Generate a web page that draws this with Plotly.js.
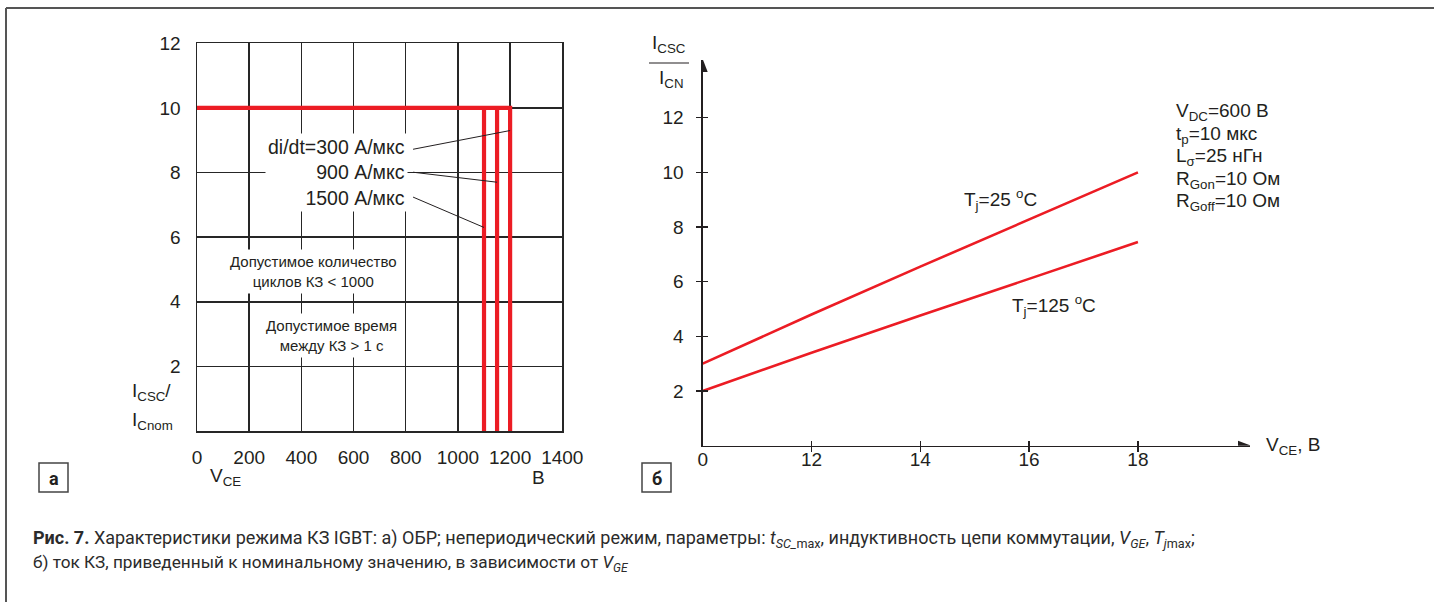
<!DOCTYPE html>
<html>
<head>
<meta charset="utf-8">
<script src="https://cdn.plot.ly/plotly-3.0.1.min.js"></script>
<style>html,body{margin:0;padding:0;background:#fff;}#chart{width:1434px;height:602px;}</style>
</head>
<body>
<div id="chart"></div>
<script>
// ---- Data: chart (a) SCSOA ----
const obrXTicks = [0, 200, 400, 600, 800, 1000, 1200, 1400];
const obrYTicks = [2, 4, 6, 8, 10, 12];
const obrLimitCurrent = 10;             // I_CSC / I_Cnom
const obrVoltages = [1100, 1150, 1200]; // V_CE limits, B
const obrRates = ['1500 А/мкс', '900 А/мкс', 'di/dt=300 А/мкс'];
const obrLeaderY = [6.3, 7.7, 9.3];

// ---- Data: chart (б) short-circuit current vs V_GE ----
const vge = [10, 12, 14, 16, 18];
const vgeTickText = ['0', '12', '14', '16', '18'];
const ratioTj25 = [3.0, 4.8, 6.55, 8.28, 10.0];
const ratioTj125 = [2.0, 3.4, 4.76, 6.1, 7.45];
const ratioTicks = [2, 4, 6, 8, 10, 12];

const RED = '#ec1c24';
const INK = '#231f20';
const GRID = '#262626';
const FONT = 'Liberation Sans, Arial, sans-serif';
const CAPFONT = 'Roboto, "Noto Sans", sans-serif';
const W = 1434, H = 602;
const px = x => x / W;
const py = y => 1 - y / H;

const traces = [];
traces.push({
  x: [0, obrVoltages[2], obrVoltages[2]],
  y: [obrLimitCurrent, obrLimitCurrent, 0],
  xaxis: 'x', yaxis: 'y', mode: 'lines',
  line: {color: RED, width: 4.2}, hoverinfo: 'skip'
});
obrVoltages.slice(0, 2).forEach(v => traces.push({
  x: [v, v], y: [obrLimitCurrent, 0],
  xaxis: 'x', yaxis: 'y', mode: 'lines',
  line: {color: RED, width: 4.2}, hoverinfo: 'skip'
}));
traces.push({x: vge, y: ratioTj25, xaxis: 'x2', yaxis: 'y2', mode: 'lines',
  line: {color: RED, width: 2.6}, hoverinfo: 'skip'});
traces.push({x: vge, y: ratioTj125, xaxis: 'x2', yaxis: 'y2', mode: 'lines',
  line: {color: RED, width: 2.6}, hoverinfo: 'skip'});
// empty traces that switch on the overlay tick axes
traces.push({x: [], y: [], xaxis: 'x3', yaxis: 'y3', mode: 'lines', hoverinfo: 'skip'});
traces.push({x: [], y: [], xaxis: 'x4', yaxis: 'y3', mode: 'lines', hoverinfo: 'skip'});

const xr2 = [10, 20.06];
const yr2 = [0, 14.11];

const shapes = [];
shapes.push({type: 'line', xref: 'paper', yref: 'paper', x0: px(6), x1: 1, y0: py(8), y1: py(8), line: {color: '#555', width: 2}});
shapes.push({type: 'line', xref: 'paper', yref: 'paper', x0: px(6), x1: px(6), y0: py(8), y1: 0, line: {color: '#555', width: 2}});
shapes.push({type: 'rect', xref: 'paper', yref: 'paper', x0: px(39), x1: px(68), y0: py(463), y1: py(492), line: {color: '#444', width: 1.5}});
shapes.push({type: 'rect', xref: 'paper', yref: 'paper', x0: px(642), x1: px(671), y0: py(463), y1: py(492), line: {color: '#444', width: 1.5}});
obrVoltages.forEach((v, i) => shapes.push({
  type: 'line', xref: 'x', yref: 'y', x0: 828, y0: [7.24, 8.01, 8.72][i], x1: v, y1: obrLeaderY[i],
  line: {color: INK, width: 1}
}));
shapes.push({type: 'line', xref: 'paper', yref: 'paper', x0: px(649), x1: px(689), y0: py(63), y1: py(63), line: {color: INK, width: 1.2}});
shapes.push({type: 'path', xref: 'x2', yref: 'y2', xsizemode: 'pixel', ysizemode: 'pixel',
  xanchor: xr2[1], yanchor: 0, path: 'M 1 0 L -12 5 L -12 -5 Z', fillcolor: INK, line: {width: 0}});
shapes.push({type: 'path', xref: 'x2', yref: 'y2', xsizemode: 'pixel', ysizemode: 'pixel',
  xanchor: 10, yanchor: yr2[1], path: 'M 0 1 L -5 -12 L 5 -12 Z', fillcolor: INK, line: {width: 0}});

const ann = [];
const txt = (x, y, text, opts) => Object.assign({xref: 'paper', yref: 'paper', x: px(x), y: py(y), text: text,
  showarrow: false, font: {family: FONT, size: 19, color: INK}, xanchor: 'left', yanchor: 'middle'}, opts || {});
const small = {family: FONT, size: 15, color: INK};

ann.push(txt(408, 173, obrRates.slice().reverse().join('<br>'), {xanchor: 'right', align: 'right', bgcolor: '#fff', borderpad: 2,
  font: {family: FONT, size: 19.5, color: INK}}));
ann.push(txt(313, 271, 'Допустимое количество<br>циклов КЗ &lt; 1000', {xanchor: 'center', align: 'center', bgcolor: '#fff', borderpad: 3, font: small}));
ann.push(txt(331, 335, 'Допустимое время<br>между КЗ &gt; 1 с', {xanchor: 'center', align: 'center', bgcolor: '#fff', borderpad: 3, font: small}));
ann.push(txt(130, 392, 'I<sub>CSC</sub>/'));
ann.push(txt(130, 421, 'I<sub>Cnom</sub>'));
ann.push(txt(208, 477, 'V<sub>CE</sub>'));
ann.push(txt(530, 477, 'В'));
ann.push(txt(650, 44, 'I<sub>CSC</sub>'));
ann.push(txt(657, 79, 'I<sub>CN</sub>'));
ann.push(txt(1264, 446, 'V<sub>CE</sub>, В'));
ann.push(txt(962, 200, 'T<sub>j</sub>=25 <sup>o</sup>C'));
ann.push(txt(1010, 305, 'T<sub>j</sub>=125 <sup>o</sup>C'));
['V<sub>DC</sub>=600 В', 't<sub>p</sub>=10 мкс', 'L<sub>σ</sub>=25 нГн', 'R<sub>Gon</sub>=10 Ом', 'R<sub>Goff</sub>=10 Ом']
  .forEach((t, i) => ann.push(txt(1174, 112 + i * 22.6, t)));
ann.push(txt(53.5, 478, '<b>а</b>', {xanchor: 'center', font: {family: CAPFONT, size: 18, color: INK}}));
ann.push(txt(656.5, 478, '<b>б</b>', {xanchor: 'center', font: {family: CAPFONT, size: 18, color: INK}}));
ann.push(txt(31, 539, '<b>Рис. 7.</b> Характеристики режима КЗ IGBT: а) ОБР; непериодический режим, параметры: <i>t</i><sub><i>SC_</i>max</sub>, индуктивность цепи коммутации, <i>V</i><sub><i>GE</i></sub>, <i>T</i><sub><i>j</i>max</sub>;',
  {font: {family: CAPFONT, size: 18, color: '#2b2b2b'}}));
ann.push(txt(31, 563, 'б) ток КЗ, приведенный к номинальному значению, в зависимости от <i>V</i><sub><i>GE</i></sub>',
  {font: {family: CAPFONT, size: 17.2, color: '#2b2b2b'}}));

const tickFont = {family: FONT, size: 19, color: INK};

const layout = {
  width: W, height: H, margin: {l: 0, r: 0, t: 0, b: 0},
  paper_bgcolor: '#fff', plot_bgcolor: 'rgba(0,0,0,0)', showlegend: false,
  xaxis: {domain: [px(197), px(562.3)], range: [0, 1400], anchor: 'y', tickvals: obrXTicks,
    showgrid: true, gridcolor: GRID, gridwidth: 1.5, showline: true, mirror: true, linecolor: GRID, linewidth: 1.5,
    ticks: '', tickfont: tickFont, ticklabelstandoff: 9, zeroline: false, fixedrange: true},
  yaxis: {domain: [py(431), py(43.3)], range: [0, 12], anchor: 'x', tickvals: obrYTicks,
    showgrid: true, gridcolor: GRID, gridwidth: 1.5, showline: true, mirror: true, linecolor: GRID, linewidth: 1.5,
    ticks: '', tickfont: tickFont, ticklabelstandoff: 11, zeroline: false, fixedrange: true},
  xaxis2: {domain: [px(702.7), px(1250)], range: xr2, anchor: 'y2', tickvals: vge, ticktext: vgeTickText,
    showgrid: false, showline: true, linecolor: INK, linewidth: 1.3, ticks: '', tickfont: tickFont,
    ticklabelstandoff: -4, zeroline: false, fixedrange: true},
  yaxis2: {domain: [py(445.7), py(60)], range: yr2, anchor: 'x2', tickvals: ratioTicks,
    showgrid: false, showline: true, linecolor: INK, linewidth: 1.3, ticks: 'outside', ticklen: 5, tickwidth: 1.3, tickcolor: INK,
    tickfont: tickFont, ticklabelstandoff: 9, zeroline: false, fixedrange: true},
  xaxis3: {overlaying: 'x2', anchor: 'y2', range: xr2, tickvals: vge.slice(1), ticks: 'outside', ticklen: 5, tickwidth: 1.3,
    tickcolor: INK, showticklabels: false, showgrid: false, showline: false, zeroline: false, fixedrange: true},
  xaxis4: {overlaying: 'x2', anchor: 'y2', range: xr2, tickvals: vge.slice(1), ticks: 'inside', ticklen: 5, tickwidth: 1.3,
    tickcolor: INK, showticklabels: false, showgrid: false, showline: false, zeroline: false, fixedrange: true},
  yaxis3: {overlaying: 'y2', anchor: 'x2', range: yr2, tickvals: ratioTicks, ticks: 'inside', ticklen: 5, tickwidth: 1.3,
    tickcolor: INK, showticklabels: false, showgrid: false, showline: false, zeroline: false, fixedrange: true},
  shapes: shapes,
  annotations: ann
};

Plotly.newPlot('chart', traces, layout, {displayModeBar: false, staticPlot: true});
</script>
</body>
</html>
